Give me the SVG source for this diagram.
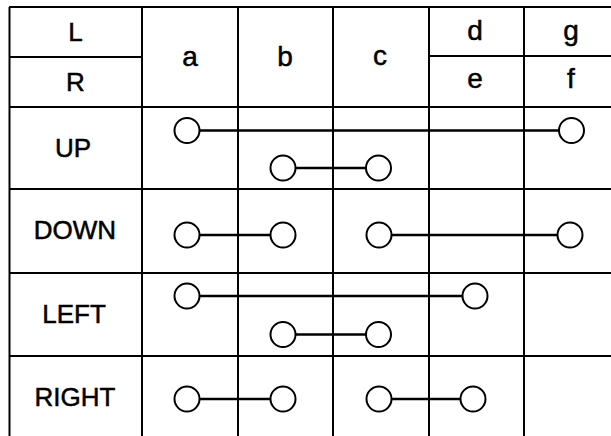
<svg xmlns="http://www.w3.org/2000/svg" width="611" height="436" viewBox="0 0 611 436">
<style>
.grid{stroke:#000;stroke-width:2;fill:none}
.lbl{font-family:"Liberation Sans",Arial,sans-serif;font-size:26px;fill:#000;stroke:#000;stroke-width:0.5;text-anchor:middle}
.sm{font-size:28px}
.node circle{fill:#fff;stroke:#000;stroke-width:2}
.conn line{stroke:#000;stroke-width:2.5}
</style>
<rect width="611" height="436" fill="#fff"/>
<g id="table" class="grid">
<line x1="9" y1="7" x2="611" y2="7"/>
<line x1="9" y1="107" x2="611" y2="107"/>
<line x1="9" y1="189" x2="611" y2="189"/>
<line x1="9" y1="273" x2="611" y2="273"/>
<line x1="9" y1="356" x2="611" y2="356"/>
<line x1="9" y1="57" x2="142" y2="57"/>
<line x1="429" y1="56" x2="611" y2="56"/>
<line x1="9.5" y1="7" x2="9.5" y2="436"/>
<line x1="142" y1="7" x2="142" y2="436"/>
<line x1="238" y1="7" x2="238" y2="436"/>
<line x1="333" y1="7" x2="333" y2="436"/>
<line x1="429" y1="7" x2="429" y2="436"/>
<line x1="524" y1="7" x2="524" y2="436"/>
</g>
<g id="labels">
<text class="lbl" x="75.5" y="41">L</text>
<text class="lbl" x="75.5" y="91">R</text>
<text class="lbl sm" x="190" y="66">a</text>
<text class="lbl sm" x="285" y="66">b</text>
<text class="lbl sm" x="380" y="65">c</text>
<text class="lbl sm" x="475" y="40">d</text>
<text class="lbl sm" x="475" y="88">e</text>
<text class="lbl sm" x="571" y="40">g</text>
<text class="lbl sm" x="571" y="88">f</text>
<text class="lbl" x="73" y="157">UP</text>
<text class="lbl" x="75" y="239">DOWN</text>
<text class="lbl" x="74" y="323">LEFT</text>
<text class="lbl" x="75" y="406">RIGHT</text>
</g>
<g id="connectors" class="conn">
<line x1="187" y1="130.5" x2="571.5" y2="130.5"/>
<line x1="283" y1="168" x2="378.5" y2="168"/>
<line x1="187" y1="235" x2="283" y2="235"/>
<line x1="379" y1="235" x2="570" y2="235"/>
<line x1="187" y1="296" x2="475" y2="296"/>
<line x1="283" y1="334.5" x2="378.5" y2="334.5"/>
<line x1="187" y1="399" x2="283" y2="399"/>
<line x1="379" y1="399" x2="473" y2="399"/>
</g>
<g id="node-up-a" class="node"><circle cx="187" cy="130.5" r="12.5"/></g>
<g id="node-up-f" class="node"><circle cx="571.5" cy="130.5" r="12.5"/></g>
<g id="node-up-b" class="node"><circle cx="283" cy="168" r="12.5"/></g>
<g id="node-up-c" class="node"><circle cx="378.5" cy="168" r="12.5"/></g>
<g id="node-down-a" class="node"><circle cx="187" cy="235" r="12.5"/></g>
<g id="node-down-b" class="node"><circle cx="283" cy="235" r="12.5"/></g>
<g id="node-down-c" class="node"><circle cx="379" cy="235" r="12.5"/></g>
<g id="node-down-f" class="node"><circle cx="570" cy="235" r="12.5"/></g>
<g id="node-left-a" class="node"><circle cx="187" cy="296" r="12.5"/></g>
<g id="node-left-e" class="node"><circle cx="475" cy="296" r="12.5"/></g>
<g id="node-left-b" class="node"><circle cx="283" cy="334.5" r="12.5"/></g>
<g id="node-left-c" class="node"><circle cx="378.5" cy="334.5" r="12.5"/></g>
<g id="node-right-a" class="node"><circle cx="187" cy="399" r="12.5"/></g>
<g id="node-right-b" class="node"><circle cx="283" cy="399" r="12.5"/></g>
<g id="node-right-c" class="node"><circle cx="379" cy="399" r="12.5"/></g>
<g id="node-right-d" class="node"><circle cx="473" cy="399" r="12.5"/></g>
</svg>
